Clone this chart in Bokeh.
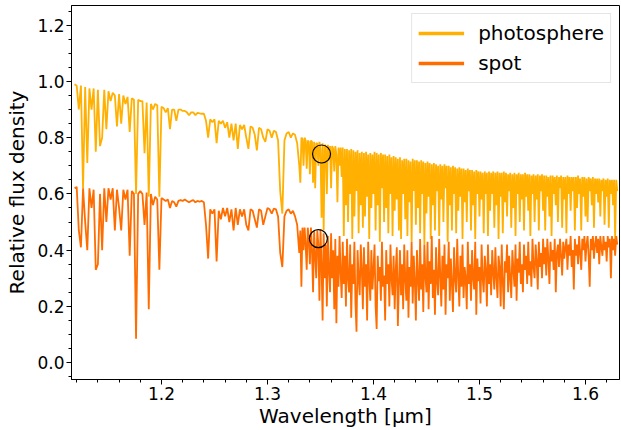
from bokeh.plotting import figure
from bokeh.models import (Range1d, SingleIntervalTicker, PrintfTickFormatter,
                          Legend, LegendItem, ColumnDataSource)
from bokeh.embed import file_html
from bokeh.resources import INLINE

# ---------------- data ----------------
wavelength = [
    1.118, 1.120, 1.122, 1.124, 1.126, 1.128, 1.130, 1.132, 1.134, 1.136,
    1.138, 1.140, 1.142, 1.144, 1.146, 1.148, 1.150, 1.152, 1.154, 1.156,
    1.158, 1.160, 1.162, 1.164, 1.166, 1.168, 1.170, 1.172, 1.174, 1.176,
    1.178, 1.180, 1.182, 1.184, 1.186, 1.188, 1.190, 1.192, 1.194, 1.196,
    1.198, 1.200, 1.202, 1.204, 1.206, 1.208, 1.210, 1.212, 1.214, 1.216,
    1.218, 1.220, 1.222, 1.224, 1.226, 1.228, 1.230, 1.232, 1.234, 1.236,
    1.238, 1.240, 1.242, 1.244, 1.246, 1.248, 1.250, 1.252, 1.254, 1.256,
    1.258, 1.260, 1.262, 1.264, 1.266, 1.268, 1.270, 1.272, 1.274, 1.276,
    1.278, 1.280, 1.282, 1.284, 1.286, 1.288, 1.290, 1.292, 1.294, 1.296,
    1.298, 1.300, 1.302, 1.304, 1.306, 1.308, 1.310, 1.312, 1.314, 1.316,
    1.318, 1.320, 1.322, 1.324, 1.326, 1.328, 1.330,
    1.331, 1.332, 1.333, 1.334, 1.335, 1.336, 1.337, 1.338, 1.339, 1.340,
    1.341, 1.342, 1.343, 1.344, 1.345, 1.346, 1.347, 1.348, 1.349, 1.350,
    1.351, 1.352, 1.353, 1.354, 1.355, 1.356, 1.357, 1.358, 1.359, 1.360,
    1.361, 1.362, 1.363, 1.364, 1.365, 1.366, 1.367, 1.368, 1.369, 1.370,
    1.371, 1.372, 1.373, 1.374, 1.375, 1.376, 1.377, 1.378, 1.379, 1.380,
    1.381, 1.382, 1.383, 1.384, 1.385, 1.386, 1.387, 1.388, 1.389, 1.390,
    1.391, 1.392, 1.393, 1.394, 1.395, 1.396, 1.397, 1.398, 1.399, 1.400,
    1.401, 1.402, 1.403, 1.404, 1.405, 1.406, 1.407, 1.408, 1.409, 1.410,
    1.411, 1.412, 1.413, 1.414, 1.415, 1.416, 1.417, 1.418, 1.419, 1.420,
    1.421, 1.422, 1.423, 1.424, 1.425, 1.426, 1.427, 1.428, 1.429, 1.430,
    1.431, 1.432, 1.433, 1.434, 1.435, 1.436, 1.437, 1.438, 1.439, 1.440,
    1.441, 1.442, 1.443, 1.444, 1.445, 1.446, 1.447, 1.448, 1.449, 1.450,
    1.451, 1.452, 1.453, 1.454, 1.455, 1.456, 1.457, 1.458, 1.459, 1.460,
    1.461, 1.462, 1.463, 1.464, 1.465, 1.466, 1.467, 1.468, 1.469, 1.470,
    1.471, 1.472, 1.473, 1.474, 1.475, 1.476, 1.477, 1.478, 1.479, 1.480,
    1.481, 1.482, 1.483, 1.484, 1.485, 1.486, 1.487, 1.488, 1.489, 1.490,
    1.491, 1.492, 1.493, 1.494, 1.495, 1.496, 1.497, 1.498, 1.499, 1.500,
    1.501, 1.502, 1.503, 1.504, 1.505, 1.506, 1.507, 1.508, 1.509, 1.510,
    1.511, 1.512, 1.513, 1.514, 1.515, 1.516, 1.517, 1.518, 1.519, 1.520,
    1.521, 1.522, 1.523, 1.524, 1.525, 1.526, 1.527, 1.528, 1.529, 1.530,
    1.531, 1.532, 1.533, 1.534, 1.535, 1.536, 1.537, 1.538, 1.539, 1.540,
    1.541, 1.542, 1.543, 1.544, 1.545, 1.546, 1.547, 1.548, 1.549, 1.550,
    1.551, 1.552, 1.553, 1.554, 1.555, 1.556, 1.557, 1.558, 1.559, 1.560,
    1.561, 1.562, 1.563, 1.564, 1.565, 1.566, 1.567, 1.568, 1.569, 1.570,
    1.571, 1.572, 1.573, 1.574, 1.575, 1.576, 1.577, 1.578, 1.579, 1.580,
    1.581, 1.582, 1.583, 1.584, 1.585, 1.586, 1.587, 1.588, 1.589, 1.590,
    1.591, 1.592, 1.593, 1.594, 1.595, 1.596, 1.597, 1.598, 1.599, 1.600,
    1.601, 1.602, 1.603, 1.604, 1.605, 1.606, 1.607, 1.608, 1.609, 1.610,
    1.611, 1.612, 1.613, 1.614, 1.615, 1.616, 1.617, 1.618, 1.619, 1.620,
    1.621, 1.622, 1.623, 1.624, 1.625, 1.626, 1.627, 1.628, 1.629, 1.630,
]

flux_photosphere = [
    0.990, 0.985, 0.900, 0.985, 0.620, 0.980, 0.710, 0.975, 0.900, 0.975,
    0.750, 0.970, 0.770, 0.800, 0.970, 0.830, 0.965, 0.930, 0.960, 0.950,
    0.840, 0.955, 0.850, 0.950, 0.920, 0.945, 0.820, 0.940, 0.935, 0.600,
    0.935, 0.930, 0.930, 0.745, 0.925, 0.590, 0.920, 0.900, 0.920, 0.915,
    0.590, 0.910, 0.905, 0.890, 0.905, 0.830, 0.900, 0.900, 0.860, 0.900,
    0.900, 0.895, 0.895, 0.890, 0.880, 0.890, 0.890, 0.880, 0.888, 0.886,
    0.885, 0.885, 0.860, 0.800, 0.865, 0.855, 0.865, 0.780, 0.860, 0.850,
    0.860, 0.835, 0.855, 0.800, 0.850, 0.790, 0.850, 0.760, 0.845, 0.830,
    0.845, 0.800, 0.760, 0.840, 0.835, 0.810, 0.755, 0.835, 0.830, 0.800,
    0.785, 0.830, 0.825, 0.800, 0.825, 0.820, 0.790, 0.610, 0.530, 0.790,
    0.815, 0.820, 0.800, 0.815, 0.810, 0.780, 0.700,
    0.640, 0.800, 0.795, 0.700, 0.800, 0.790, 0.690, 0.790, 0.785, 0.670,
    0.790, 0.785, 0.640, 0.785, 0.620, 0.780, 0.780, 0.700, 0.785, 0.760,
    0.515, 0.780, 0.470, 0.775, 0.770, 0.600, 0.775, 0.720, 0.770, 0.620,
    0.770, 0.760, 0.680, 0.770, 0.740, 0.570, 0.765, 0.700, 0.765, 0.660,
    0.765, 0.450, 0.760, 0.560, 0.760, 0.500, 0.755, 0.600, 0.760, 0.440,
    0.755, 0.520, 0.750, 0.610, 0.755, 0.460, 0.745, 0.560, 0.750, 0.480,
    0.745, 0.520, 0.750, 0.590, 0.740, 0.440, 0.745, 0.550, 0.740, 0.600,
    0.750, 0.470, 0.745, 0.560, 0.740, 0.430, 0.745, 0.620, 0.740, 0.500,
    0.740, 0.550, 0.735, 0.460, 0.740, 0.600, 0.730, 0.450, 0.735, 0.540,
    0.730, 0.580, 0.725, 0.470, 0.730, 0.440, 0.720, 0.600, 0.725, 0.510,
    0.725, 0.450, 0.720, 0.570, 0.715, 0.430, 0.725, 0.610, 0.720, 0.490,
    0.720, 0.550, 0.715, 0.460, 0.720, 0.600, 0.715, 0.420, 0.710, 0.530,
    0.715, 0.590, 0.710, 0.440, 0.705, 0.560, 0.710, 0.470, 0.705, 0.610,
    0.700, 0.450, 0.705, 0.580, 0.700, 0.500, 0.705, 0.620, 0.700, 0.430,
    0.700, 0.560, 0.695, 0.470, 0.700, 0.600, 0.695, 0.460, 0.690, 0.540,
    0.695, 0.590, 0.690, 0.440, 0.690, 0.570, 0.685, 0.500, 0.690, 0.610,
    0.685, 0.470, 0.685, 0.560, 0.680, 0.440, 0.685, 0.600, 0.680, 0.520,
    0.680, 0.580, 0.675, 0.460, 0.680, 0.600, 0.675, 0.450, 0.680, 0.540,
    0.675, 0.600, 0.680, 0.480, 0.675, 0.560, 0.680, 0.440, 0.675, 0.590,
    0.675, 0.460, 0.680, 0.570, 0.675, 0.520, 0.670, 0.610, 0.675, 0.480,
    0.670, 0.550, 0.675, 0.450, 0.670, 0.600, 0.675, 0.500, 0.670, 0.580,
    0.670, 0.470, 0.675, 0.590, 0.670, 0.540, 0.670, 0.450, 0.665, 0.600,
    0.670, 0.500, 0.665, 0.580, 0.670, 0.470, 0.665, 0.610, 0.670, 0.540,
    0.665, 0.470, 0.665, 0.590, 0.660, 0.520, 0.665, 0.450, 0.665, 0.600,
    0.660, 0.560, 0.665, 0.500, 0.660, 0.620, 0.665, 0.480, 0.660, 0.580,
    0.660, 0.460, 0.665, 0.600, 0.660, 0.540, 0.660, 0.610, 0.660, 0.470,
    0.660, 0.550, 0.665, 0.600, 0.655, 0.470, 0.660, 0.590, 0.660, 0.520,
    0.655, 0.500, 0.660, 0.610, 0.655, 0.560, 0.660, 0.480, 0.655, 0.600,
    0.655, 0.570, 0.655, 0.520, 0.650, 0.610, 0.655, 0.490, 0.650, 0.590,
    0.655, 0.480, 0.650, 0.600, 0.650, 0.560, 0.650, 0.440, 0.650, 0.610,
]

flux_spot = [
    0.620, 0.625, 0.470, 0.410, 0.620, 0.500, 0.400, 0.620, 0.550, 0.615,
    0.330, 0.350, 0.600, 0.400, 0.620, 0.500, 0.620, 0.580, 0.620, 0.470,
    0.615, 0.550, 0.470, 0.615, 0.580, 0.615, 0.380, 0.610, 0.600, 0.085,
    0.600, 0.610, 0.600, 0.490, 0.605, 0.190, 0.600, 0.560, 0.590, 0.580,
    0.330, 0.585, 0.580, 0.575, 0.580, 0.550, 0.575, 0.570, 0.555, 0.575,
    0.578, 0.575, 0.580, 0.575, 0.570, 0.575, 0.578, 0.570, 0.575, 0.572,
    0.575, 0.570, 0.490, 0.370, 0.545, 0.530, 0.545, 0.360, 0.540, 0.510,
    0.550, 0.520, 0.550, 0.500, 0.545, 0.470, 0.550, 0.490, 0.545, 0.520,
    0.545, 0.490, 0.470, 0.545, 0.540, 0.510, 0.480, 0.545, 0.540, 0.490,
    0.520, 0.550, 0.545, 0.530, 0.548, 0.545, 0.520, 0.390, 0.340, 0.520,
    0.540, 0.545, 0.530, 0.540, 0.520, 0.490, 0.390,
    0.470, 0.270, 0.480, 0.400, 0.480, 0.420, 0.330, 0.480, 0.440, 0.350,
    0.480, 0.400, 0.250, 0.470, 0.380, 0.300, 0.470, 0.420, 0.220, 0.475,
    0.350, 0.150, 0.460, 0.300, 0.420, 0.200, 0.450, 0.330, 0.250, 0.460,
    0.300, 0.400, 0.190, 0.440, 0.140, 0.380, 0.270, 0.450, 0.320, 0.230,
    0.430, 0.280, 0.380, 0.200, 0.440, 0.300, 0.250, 0.420, 0.160, 0.350,
    0.280, 0.430, 0.210, 0.110, 0.400, 0.300, 0.240, 0.420, 0.330, 0.190,
    0.410, 0.270, 0.350, 0.150, 0.430, 0.300, 0.220, 0.400, 0.260, 0.330,
    0.420, 0.200, 0.120, 0.380, 0.290, 0.340, 0.220, 0.430, 0.270, 0.310,
    0.150, 0.400, 0.280, 0.350, 0.200, 0.420, 0.300, 0.240, 0.380, 0.190,
    0.330, 0.410, 0.130, 0.280, 0.400, 0.240, 0.350, 0.190, 0.420, 0.300,
    0.220, 0.400, 0.160, 0.340, 0.270, 0.430, 0.210, 0.380, 0.290, 0.150,
    0.400, 0.300, 0.220, 0.440, 0.260, 0.350, 0.180, 0.420, 0.310, 0.250,
    0.430, 0.190, 0.360, 0.280, 0.450, 0.230, 0.330, 0.170, 0.410, 0.290,
    0.240, 0.440, 0.310, 0.200, 0.380, 0.260, 0.420, 0.170, 0.350, 0.300,
    0.430, 0.220, 0.370, 0.280, 0.180, 0.410, 0.300, 0.250, 0.440, 0.310,
    0.200, 0.380, 0.270, 0.420, 0.230, 0.340, 0.300, 0.190, 0.430, 0.280,
    0.350, 0.220, 0.400, 0.300, 0.260, 0.430, 0.170, 0.370, 0.290, 0.340,
    0.210, 0.420, 0.300, 0.250, 0.380, 0.330, 0.200, 0.420, 0.280, 0.350,
    0.240, 0.400, 0.320, 0.260, 0.410, 0.300, 0.230, 0.380, 0.340, 0.200,
    0.420, 0.290, 0.190, 0.360, 0.320, 0.420, 0.250, 0.380, 0.300, 0.230,
    0.400, 0.330, 0.270, 0.420, 0.220, 0.370, 0.320, 0.430, 0.280, 0.350,
    0.250, 0.420, 0.330, 0.380, 0.280, 0.430, 0.310, 0.360, 0.270, 0.440,
    0.340, 0.300, 0.420, 0.360, 0.260, 0.430, 0.340, 0.390, 0.300, 0.440,
    0.350, 0.410, 0.310, 0.440, 0.370, 0.280, 0.430, 0.360, 0.400, 0.330,
    0.440, 0.250, 0.390, 0.420, 0.340, 0.440, 0.380, 0.310, 0.430, 0.370,
    0.410, 0.440, 0.330, 0.420, 0.380, 0.450, 0.340, 0.400, 0.260, 0.440,
    0.380, 0.420, 0.350, 0.450, 0.390, 0.330, 0.440, 0.400, 0.450, 0.360,
    0.420, 0.450, 0.380, 0.270, 0.440, 0.400, 0.450, 0.370, 0.420, 0.450,
    0.390, 0.440, 0.350, 0.450, 0.410, 0.380, 0.450, 0.400, 0.430, 0.360,
    0.450, 0.410, 0.440, 0.300, 0.450, 0.400, 0.440, 0.380, 0.450, 0.420,
]

marker_wavelength = [1.351, 1.348]
marker_flux = [0.742, 0.441]

series_labels = ["photosphere", "spot"]
series_colors = ["#ffb000", "#ff6d00"]

# ---------------- figure ----------------
p = figure(width=621, height=430, output_backend="svg", toolbar_location=None,
           x_range=Range1d(1.1151, 1.6321), y_range=Range1d(-0.06, 1.27),
           min_border_left=71, min_border_right=2, min_border_top=5,
           min_border_bottom=51)
p.background_fill_color = "white"
p.border_fill_color = "white"
p.outline_line_color = "black"
p.outline_line_width = 1
p.xgrid.visible = False
p.ygrid.visible = False

src = ColumnDataSource(dict(w=wavelength, ph=flux_photosphere, sp=flux_spot))
p.line("w", "ph", source=src, line_color=series_colors[0], line_width=1.8)
p.line("w", "sp", source=src, line_color=series_colors[1], line_width=1.8)
p.scatter(marker_wavelength, marker_flux, size=18, marker="circle",
          fill_color=None, line_color="black", line_width=1.2)

# legend proxies (thicker lines, drawn on an off-frame range so they are clipped)
p.extra_y_ranges = {"legend_proxy": Range1d(10, 11)}
lp = p.line("w", "ph", source=src, y_range_name="legend_proxy",
            line_color=series_colors[0], line_width=3.5)
ls = p.line("w", "sp", source=src, y_range_name="legend_proxy",
            line_color=series_colors[1], line_width=3.5)
legend = Legend(items=[LegendItem(label=series_labels[0], renderers=[lp]),
                       LegendItem(label=series_labels[1], renderers=[ls])],
                location="top_right", label_text_font="DejaVu Sans",
                label_text_font_size="20px", label_text_color="black",
                glyph_width=46, glyph_height=26,
                label_height=26, spacing=4, padding=6, margin=8,
                label_standoff=14, border_line_color="#cccccc",
                border_line_width=1, background_fill_alpha=0.8)
p.add_layout(legend)

# axes
for ax in (p.xaxis[0], p.yaxis[0]):
    ax.axis_line_color = "black"
    ax.major_tick_line_color = "black"
    ax.minor_tick_line_color = "black"
    ax.major_tick_out = 5
    ax.major_tick_in = 0
    ax.minor_tick_out = 3
    ax.minor_tick_in = 0
    ax.major_label_text_font = "DejaVu Sans"
    ax.major_label_text_font_size = "17px"
    ax.major_label_text_color = "black"
    ax.axis_label_text_font = "DejaVu Sans"
    ax.axis_label_text_font_size = "20px"
    ax.axis_label_text_font_style = "normal"
    ax.axis_label_text_color = "black"

p.xaxis.ticker = SingleIntervalTicker(interval=0.1, num_minor_ticks=5)
p.yaxis.ticker = SingleIntervalTicker(interval=0.2, num_minor_ticks=4)
p.xaxis.formatter = PrintfTickFormatter(format="%.1f")
p.yaxis.formatter = PrintfTickFormatter(format="%.1f")
p.xaxis.axis_label = "Wavelength [μm]"
p.yaxis.axis_label = "Relative flux density"
p.xaxis.major_label_standoff = 2
p.xaxis.axis_label_standoff = 1
p.yaxis.major_label_standoff = 2
p.yaxis.axis_label_standoff = 5

open("out.html", "w").write(file_html(p, INLINE))
